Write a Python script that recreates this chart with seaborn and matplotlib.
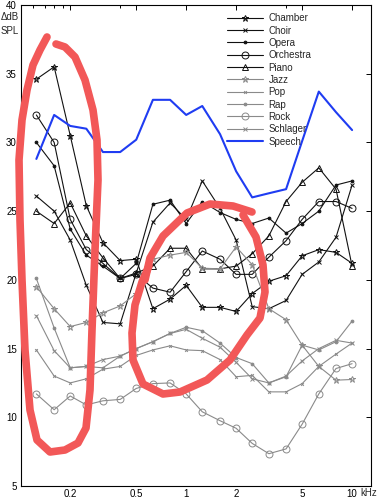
import matplotlib
matplotlib.use('Agg')
import matplotlib.pyplot as plt
from matplotlib.ticker import NullFormatter
import pandas as pd
import seaborn as sns

# third-octave band centres (kHz)
freq = [0.125, 0.16, 0.2, 0.25, 0.315, 0.4, 0.5, 0.63, 0.8, 1, 1.25, 1.6, 2, 2.5, 3.15, 4, 5, 6.3, 8, 10]

chamber = [34.6, 35.5, 30.5, 25.4, 22.7, 21.4, 21.5, 17.9, 18.6, 19.6, 18.0, 18.0, 17.7, 19.0, 19.9, 20.3, 21.75, 22.2, 22.0, 21.2]
choir = [26.1, 25.0, 22.9, 19.6, 16.9, 16.8, 20.5, 24.2, 25.6, 24.4, 27.2, 25.2, 22.9, 18.05, 17.9, 18.5, 20.4, 21.3, 23.1, 26.9]
opera = [30.0, 28.3, 23.7, 21.8, 21.0, 20.1, 21.2, 25.5, 25.8, 24.1, 25.7, 24.9, 24.4, 24.1, 24.5, 23.4, 24.1, 25.0, 26.9, 27.2]
orchestra = [32.0, 30.0, 24.4, 22.2, 21.2, 20.1, 20.4, 19.4, 19.1, 20.6, 22.1, 21.5, 20.4, 20.4, 21.65, 22.85, 24.4, 25.7, 25.7, 25.2]
piano = [25.0, 24.1, 25.6, 23.2, 21.6, 20.1, 20.5, 21.0, 22.3, 22.3, 20.8, 20.8, 21.0, 21.9, 23.2, 25.7, 27.1, 28.15, 26.6, 21.0]
jazz = [19.5, 17.9, 16.6, 16.9, 17.6, 18.1, 19.0, 21.5, 21.8, 22.0, 20.85, 20.8, 22.4, 21.1, 17.9, 17.1, 15.25, 13.7, 12.7, 12.75]
pop = [14.9, 13.0, 12.5, 12.8, 13.5, 13.7, 14.5, 14.9, 15.2, 14.9, 14.85, 14.2, 12.95, 13.05, 11.85, 11.85, 12.45, 13.7, 14.6, 15.4]
rap = [20.1, 16.5, 13.6, 13.7, 13.6, 14.45, 15.0, 15.5, 16.1, 16.55, 16.3, 15.4, 14.35, 13.9, 12.5, 12.95, 15.25, 14.9, 15.5, 17.0]
rock = [11.7, 10.55, 11.55, 10.9, 11.2, 11.3, 12.1, 12.45, 12.5, 11.7, 10.4, 9.75, 9.2, 8.1, 7.35, 7.7, 9.5, 11.7, 13.55, 13.9]
schlager = [17.4, 14.85, 13.6, 13.7, 14.2, 14.45, 15.0, 15.5, 16.1, 16.4, 15.75, 15.1, 14.0, 12.8, 12.5, 13.0, 14.1, 15.0, 15.6, 15.4]
speech = [28.8, 32.0, 31.2, 31.0, 29.3, 29.3, 30.2, 33.1, 33.1, 32.0, 32.65, 30.6, 27.9, 26.0, 26.3, 26.6, 30.1, 33.7, 32.2, 30.9]

genres = ['Chamber', 'Choir', 'Opera', 'Orchestra', 'Piano',
          'Jazz', 'Pop', 'Rap', 'Rock', 'Schlager', 'Speech']
series = [chamber, choir, opera, orchestra, piano,
          jazz, pop, rap, rock, schlager, speech]

# hand-drawn red loops on top of the chart (figure pixel coordinates)
loop_left_x = [47, 40, 33, 27, 22, 19, 20, 22, 25, 30, 37, 50, 65, 78, 86, 90, 92, 95, 98, 97, 93, 85, 75, 65, 56]
loop_left_y = [37, 50, 65, 90, 120, 160, 220, 280, 350, 410, 440, 452, 450, 443, 428, 390, 330, 250, 180, 140, 110, 80, 57, 47, 44]
loop_top_x = [145, 150, 163, 187, 210, 233, 252]
loop_top_y = [280, 258, 236, 213, 204, 206, 212]
loop_mid_x = [243, 256, 263, 265, 260, 247, 230, 207, 180, 163, 143, 133, 132, 135, 142, 149]
loop_mid_y = [215, 237, 265, 292, 318, 335, 360, 380, 392, 394, 384, 360, 333, 305, 282, 266]

black = '#111111'
gray = '#8a8a8a'
blue = '#1f3cf2'
styles = {
    'Chamber': (black, '*', 5.0, 'none'),
    'Choir': (black, 'x', 2.5, black),
    'Opera': (black, '.', 4.0, black),
    'Orchestra': (black, 'o', 5.0, 'none'),
    'Piano': (black, '^', 5.0, 'none'),
    'Jazz': (gray, '*', 5.0, 'none'),
    'Pop': (gray, 'x', 2.0, gray),
    'Rap': (gray, '.', 4.0, gray),
    'Rock': (gray, 'o', 5.0, 'none'),
    'Schlager': (gray, 'x', 2.5, gray),
}

sns.set_style('white')
plt.rcParams['font.family'] = ['Liberation Sans', 'DejaVu Sans']

fig = plt.figure(figsize=(3.78, 5.0), dpi=100)
ax = fig.add_axes([21 / 378, 14 / 500, 350 / 378, 481 / 500])

for name, vals in zip(genres, series):
    df = pd.DataFrame({'freq': freq, 'db': vals})
    if name == 'Speech':
        sns.lineplot(data=df, x='freq', y='db', ax=ax, color=blue, lw=1.5, label=name, zorder=3)
    else:
        c, m, ms, mfc = styles[name]
        sns.lineplot(data=df, x='freq', y='db', ax=ax, color=c, lw=0.8, marker=m,
                     markersize=ms, markerfacecolor=mfc, markeredgecolor=c,
                     markeredgewidth=0.7, label=name, zorder=2)

ax.set_xscale('log')
ax.set_xlim(0.101, 13.0)
ax.set_ylim(5, 40)
ax.set_xticks([0.2, 0.5, 1, 2, 5, 10])
ax.set_xticklabels(['0.2', '0.5', '1', '2', '5', '10'])
ax.set_xticks([0.12, 0.14, 0.16, 0.18, 0.4, 4], minor=True)
ax.xaxis.set_minor_formatter(NullFormatter())
ax.set_yticks([5, 10, 15, 20, 25, 30, 35, 40])
ax.set_xlabel('')
ax.set_ylabel('')
ax.tick_params(which='both', direction='in', top=True, right=True,
               labelsize=7, colors='black', width=0.7)
ax.tick_params(which='major', length=3.5)
ax.tick_params(which='minor', length=2)
ax.tick_params(axis='x', pad=2)
ax.tick_params(axis='y', pad=3)
for s in ax.spines.values():
    s.set_color('black')
    s.set_linewidth(0.8)

ax.legend(loc='upper left', bbox_to_anchor=(0.588, 0.983), frameon=False,
          fontsize=7, handlelength=3.7, handletextpad=0.6, labelspacing=0.24,
          borderpad=0, borderaxespad=0)

fig.text(1 / 378, 1 - 17 / 500, '\u0394dB', fontsize=7, va='center', ha='left')
fig.text(1 / 378, 1 - 31 / 500, 'SPL', fontsize=7, va='center', ha='left')
fig.text(360 / 378, 1 - 493 / 500, 'kHz', fontsize=7, va='center', ha='left')

# red annotation overlay
over = fig.add_axes([0, 0, 1, 1], zorder=5)
over.set_xlim(0, 378)
over.set_ylim(500, 0)
over.axis('off')
over.patch.set_alpha(0)
red = '#f25858'
for xs, ys in [(loop_left_x, loop_left_y), (loop_top_x, loop_top_y), (loop_mid_x, loop_mid_y)]:
    over.plot(xs, ys, color=red, lw=5.5, solid_capstyle='round', solid_joinstyle='round')

fig.savefig('out.png', dpi=100)
